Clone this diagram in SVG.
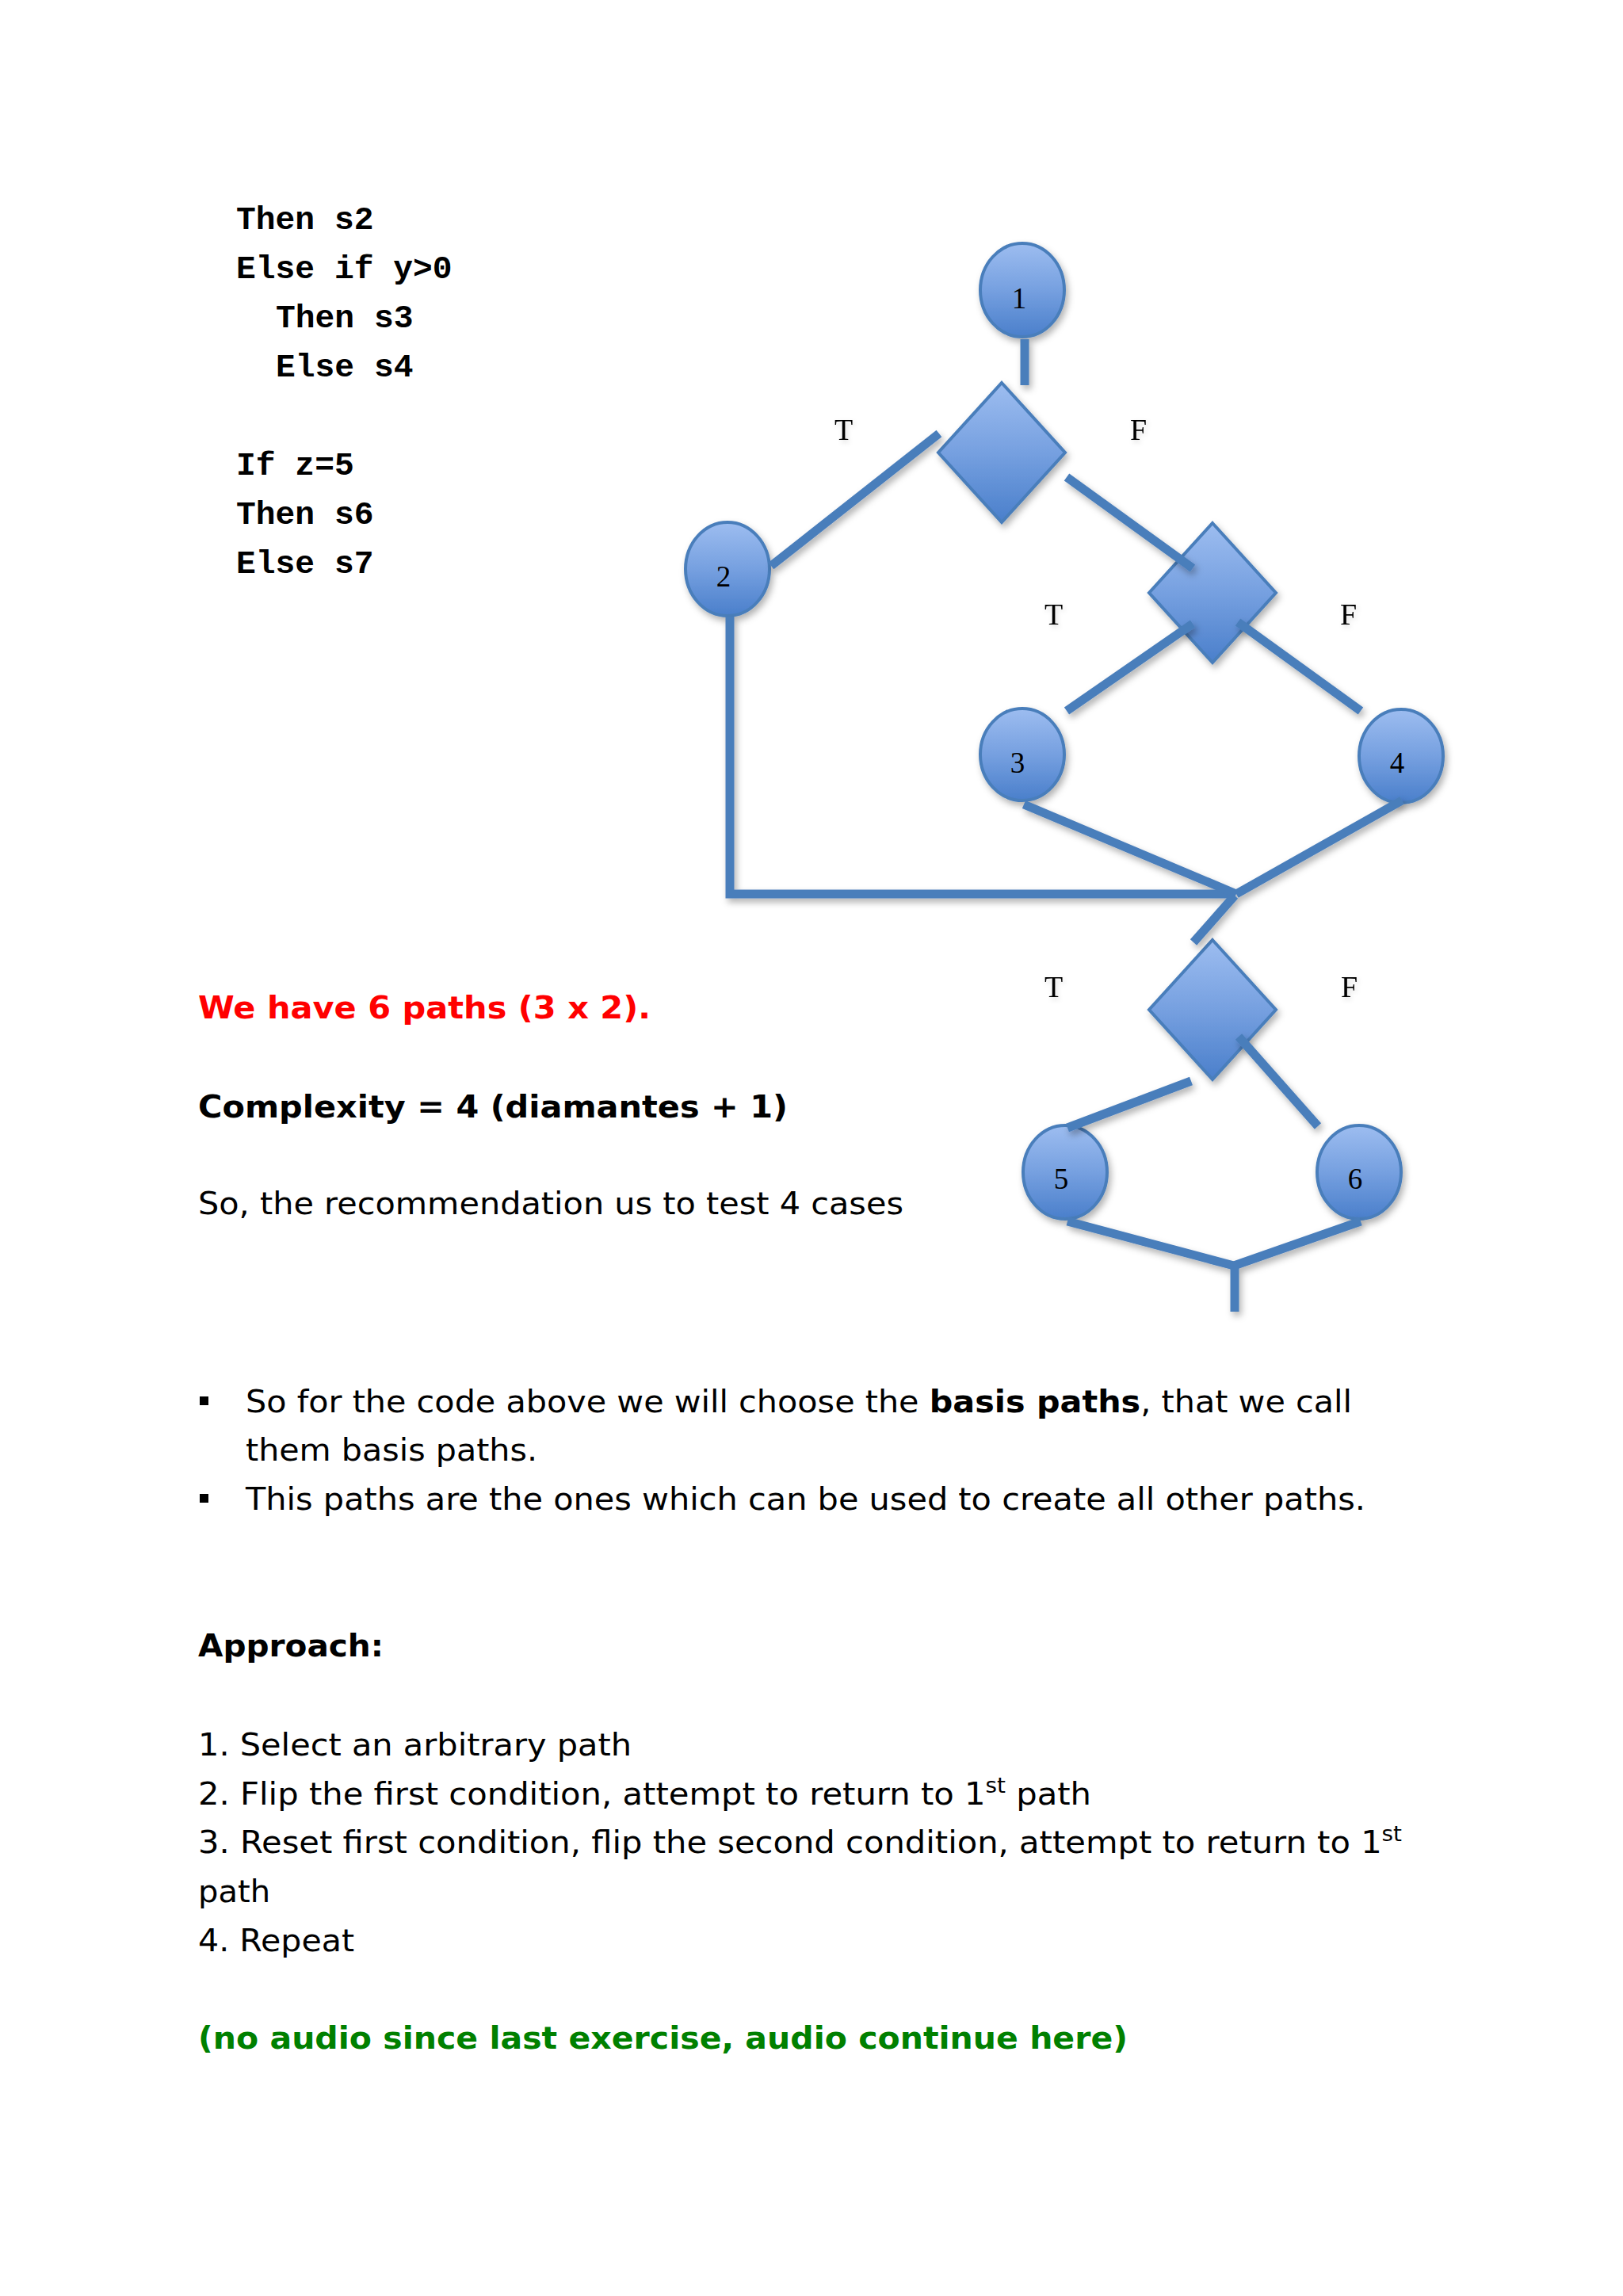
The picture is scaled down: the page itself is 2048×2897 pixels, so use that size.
<svg xmlns="http://www.w3.org/2000/svg" width="2048" height="2897" viewBox="0 0 2048 2897">
<defs>
  <linearGradient id="blueFill" x1="0" y1="0" x2="0" y2="1">
    <stop offset="0" stop-color="#9DBDF0"/>
    <stop offset="0.5" stop-color="#76A0E0"/>
    <stop offset="1" stop-color="#4A7FCB"/>
  </linearGradient>
  <filter id="shadow" x="-30%" y="-30%" width="160%" height="160%">
    <feDropShadow dx="3" dy="5" stdDeviation="4" flood-color="#000000" flood-opacity="0.3"/>
  </filter>
  <filter id="lshadow" filterUnits="userSpaceOnUse" x="0" y="0" width="2048" height="2897">
    <feDropShadow dx="3" dy="5" stdDeviation="4" flood-color="#000000" flood-opacity="0.3"/>
  </filter>
  <filter id="tshadow" x="-50%" y="-50%" width="200%" height="200%">
    <feDropShadow dx="2" dy="3" stdDeviation="3" flood-color="#000000" flood-opacity="0.15"/>
  </filter>
</defs>
<style>
  .node { fill: url(#blueFill); stroke: #4A7EBB; stroke-width: 4; filter: url(#shadow); }
  .conn { fill: none; stroke: #4A7EBB; stroke-width: 11; stroke-linecap: butt; stroke-linejoin: miter; }
  .num { font-family: "Liberation Serif", "Times New Roman", serif; font-size: 37px; fill: #000; text-anchor: middle; }
  .tf { font-family: "Liberation Serif", "Times New Roman", serif; font-size: 38px; fill: #000; filter: url(#tshadow); }
  .code { font-family: "Liberation Mono", "Courier New", monospace; font-weight: bold; font-size: 41.3px; fill: #000; white-space: pre; }
  .body { font-family: "DejaVu Sans", Verdana, sans-serif; font-size: 39px; fill: #000; }
  .b { font-weight: bold; }
</style>
<rect x="0" y="0" width="2048" height="2897" fill="#FFFFFF"/>

<g id="code">
  <text class="code" x="298" y="289">Then s2</text>
  <text class="code" x="298" y="351">Else if y&gt;0</text>
  <text class="code" x="348" y="413">Then s3</text>
  <text class="code" x="348" y="475">Else s4</text>
  <text class="code" x="298" y="599">If z=5</text>
  <text class="code" x="298" y="661">Then s6</text>
  <text class="code" x="298" y="723">Else s7</text>
</g>

<g id="nodes">
  <g id="node1"><ellipse class="node" cx="1290" cy="366" rx="53" ry="59"/><text class="num" x="1286" y="389">1</text></g>
  <g id="decision1"><polygon class="node" points="1264,483 1344,571 1264,659 1184,571"/></g>
  <g id="node2"><ellipse class="node" cx="918" cy="718" rx="53" ry="59"/><text class="num" x="913" y="740">2</text></g>
  <g id="decision2"><polygon class="node" points="1530,660 1610,748 1530,836 1450,748"/></g>
  <g id="node3"><ellipse class="node" cx="1290" cy="952" rx="53" ry="58"/><text class="num" x="1284" y="975">3</text></g>
  <g id="node4"><ellipse class="node" cx="1768" cy="954" rx="53" ry="59"/><text class="num" x="1763" y="975">4</text></g>
  <g id="decision3"><polygon class="node" points="1530,1186 1610,1274 1530,1362 1450,1274"/></g>
  <g id="node5"><ellipse class="node" cx="1344" cy="1479" rx="53" ry="59"/><text class="num" x="1339" y="1500">5</text></g>
  <g id="node6"><ellipse class="node" cx="1715" cy="1479" rx="53" ry="59"/><text class="num" x="1710" y="1500">6</text></g>
</g>

<g id="connectors" filter="url(#lshadow)">
  <path class="conn" d="M1293,428 L1293,486"/>
  <path class="conn" d="M1185,547 L973,714"/>
  <path class="conn" d="M1346,602 L1505,717"/>
  <path class="conn" d="M1505,787 L1346,897"/>
  <path class="conn" d="M1562,785 L1717,897"/>
  <path class="conn" d="M921,778 L921,1128 L1552,1128"/>
  <path class="conn" d="M1292,1015 L1560,1128"/>
  <path class="conn" d="M1769,1010 L1560,1128"/>
  <path class="conn" d="M1558,1130 L1506,1189"/>
  <path class="conn" d="M1503,1364 L1347,1423"/>
  <path class="conn" d="M1563,1308 L1663,1421"/>
  <path class="conn" d="M1347,1541 L1557,1597"/>
  <path class="conn" d="M1717,1541 L1557,1597"/>
  <path class="conn" d="M1558,1597 L1558,1655"/>
</g>

<g id="edge-labels">
  <text class="tf" x="1053" y="555">T</text>
  <text class="tf" x="1426" y="555">F</text>
  <text class="tf" x="1318" y="788">T</text>
  <text class="tf" x="1691" y="788">F</text>
  <text class="tf" x="1318" y="1258">T</text>
  <text class="tf" x="1692" y="1258">F</text>
</g>

<g id="text">
  <text class="body b" x="250" y="1285" style="fill:#FF0000" textLength="571" lengthAdjust="spacingAndGlyphs">We have 6 paths (3 x 2).</text>
  <text class="body b" x="250" y="1410" textLength="744" lengthAdjust="spacingAndGlyphs">Complexity = 4 (diamantes + 1)</text>
  <text class="body" x="250" y="1532" textLength="890" lengthAdjust="spacingAndGlyphs">So, the recommendation us to test 4 cases</text>

  <rect x="252" y="1762" width="11" height="11" fill="#000"/>
  <text class="body" x="310" y="1782" textLength="1396" lengthAdjust="spacingAndGlyphs">So for the code above we will choose the <tspan class="b">basis paths</tspan>, that we call</text>
  <text class="body" x="310" y="1843" textLength="368" lengthAdjust="spacingAndGlyphs">them basis paths.</text>
  <rect x="252" y="1885" width="11" height="11" fill="#000"/>
  <text class="body" x="310" y="1905" textLength="1413" lengthAdjust="spacingAndGlyphs">This paths are the ones which can be used to create all other paths.</text>

  <text class="body b" x="250" y="2090" textLength="234" lengthAdjust="spacingAndGlyphs">Approach:</text>
  <text class="body" x="250" y="2215" textLength="547" lengthAdjust="spacingAndGlyphs">1. Select an arbitrary path</text>
  <text class="body" x="250" y="2277" textLength="1127" lengthAdjust="spacingAndGlyphs">2. Flip the first condition, attempt to return to 1<tspan font-size="26" dy="-15">st</tspan><tspan dy="15"> path</tspan></text>
  <text class="body" x="250" y="2338" textLength="1519" lengthAdjust="spacingAndGlyphs">3. Reset first condition, flip the second condition, attempt to return to 1<tspan font-size="26" dy="-15">st</tspan></text>
  <text class="body" x="250" y="2400" textLength="91" lengthAdjust="spacingAndGlyphs">path</text>
  <text class="body" x="250" y="2462" textLength="197" lengthAdjust="spacingAndGlyphs">4. Repeat</text>
  <text class="body b" x="250" y="2585" style="fill:#008000" textLength="1173" lengthAdjust="spacingAndGlyphs">(no audio since last exercise, audio continue here)</text>
</g>
</svg>
